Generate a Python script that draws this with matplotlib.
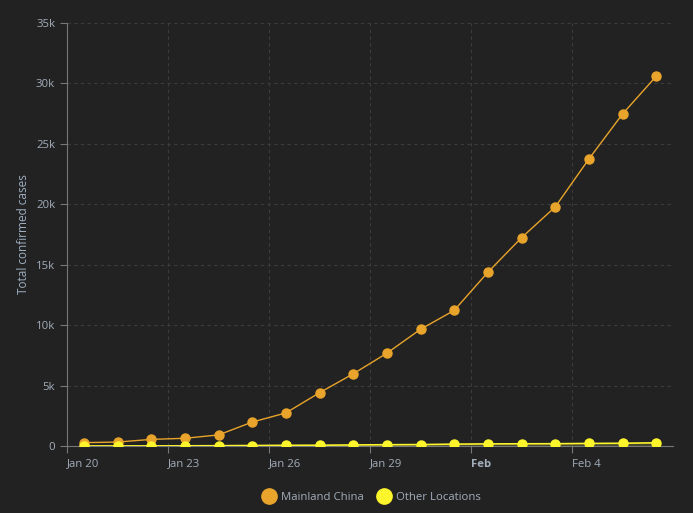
import matplotlib
matplotlib.use("Agg")
import matplotlib.pyplot as plt
import matplotlib.dates as mdates
import matplotlib.transforms as mtransforms
import numpy as np
import datetime as dt

# daily totals, Jan 20 .. Feb 6
start = dt.date(2020, 1, 20)
days = [start + dt.timedelta(days=i) for i in range(18)]
mainland_china = [278, 326, 547, 639, 916, 1979, 2737, 4409, 5970, 7678,
                  9658, 11221, 14375, 17238, 19780, 23746, 27470, 30591]
other_locations = [4, 6, 8, 14, 25, 40, 57, 64, 87, 105,
                   118, 153, 173, 183, 188, 212, 227, 265]
tick_days = [dt.date(2020, 1, 20), dt.date(2020, 1, 23), dt.date(2020, 1, 26),
             dt.date(2020, 1, 29), dt.date(2020, 2, 1), dt.date(2020, 2, 4)]
tick_labels = ["Jan 20", "Jan 23", "Jan 26", "Jan 29", "Feb", "Feb 4"]

BG = "#222222"
TXT = "#a3adba"
ORANGE = "#e9a42b"
YELLOW = "#fdf52c"

plt.rcParams['font.family'] = ['Open Sans', 'DejaVu Sans']

fig = plt.figure(figsize=(6.93, 5.13), dpi=100, facecolor=BG)
ax = fig.add_axes([0.0967, 0.1306, 0.8745, 0.8246], facecolor=BG)

# points sit at midday of each date
x = [mdates.date2num(d) + 0.5 for d in days]

ax.fill_between(x, other_locations, 0, color="#8a8a40", alpha=0.35, lw=0)
ax.plot(x, mainland_china, color=ORANGE, lw=1, marker="o", ms=6.5,
        mec=ORANGE, mfc=ORANGE, label="Mainland China", zorder=3)
ax.plot(x, other_locations, color=YELLOW, lw=1.2, marker="o", ms=6.5,
        mec=YELLOW, mfc=YELLOW, label="Other Locations", zorder=4)

ax.set_xlim(mdates.date2num(dt.date(2020, 1, 20)), mdates.date2num(dt.date(2020, 2, 7)))
ax.set_ylim(0, 35000)

ax.set_yticks(np.arange(0, 35001, 5000))
ax.set_yticklabels(["0"] + ["%dk" % v for v in range(5, 36, 5)])
ax.set_xticks([mdates.date2num(d) for d in tick_days])
ax.set_xticklabels(tick_labels, ha="left")
shift = mtransforms.ScaledTranslation(0.03, 0, fig.dpi_scale_trans)
for lab in ax.get_xticklabels():
    lab.set_transform(lab.get_transform() + shift)
    if lab.get_text() == "Feb":
        lab.set_fontweight("bold")

# vertical grid every 3 days incl. right edge
for gx in [mdates.date2num(dt.date(2020, 1, 20) + dt.timedelta(days=3 * k)) for k in range(1, 7)]:
    ax.axvline(gx, color="#3c3c3c", lw=0.8, ls=(0, (3, 3)), zorder=0)
for gy in range(5000, 35001, 5000):
    ax.axhline(gy, color="#3c3c3c", lw=0.8, ls=(0, (3, 3)), zorder=0)

ax.tick_params(colors="#777777", labelcolor=TXT, labelsize=8.2, length=5, width=0.8)
ax.tick_params(axis="x", pad=4)
for s in ["top", "right"]:
    ax.spines[s].set_visible(False)
ax.spines["left"].set_color("#777777")
ax.spines["bottom"].set_color("#777777")

ax.set_ylabel("Total confirmed cases", color="#9fb0c2", fontsize=8.5, labelpad=4)

leg = fig.legend(loc="lower center", bbox_to_anchor=(0.537, 0.0), ncol=2, frameon=False,
                 fontsize=8.2, labelcolor=TXT, handlelength=1.0, handletextpad=0.55,
                 columnspacing=1.3)
for h in leg.legend_handles:
    h.set_linestyle("none")
    h.set_markersize(11)

fig.savefig("out.png", dpi=100, facecolor=BG)
